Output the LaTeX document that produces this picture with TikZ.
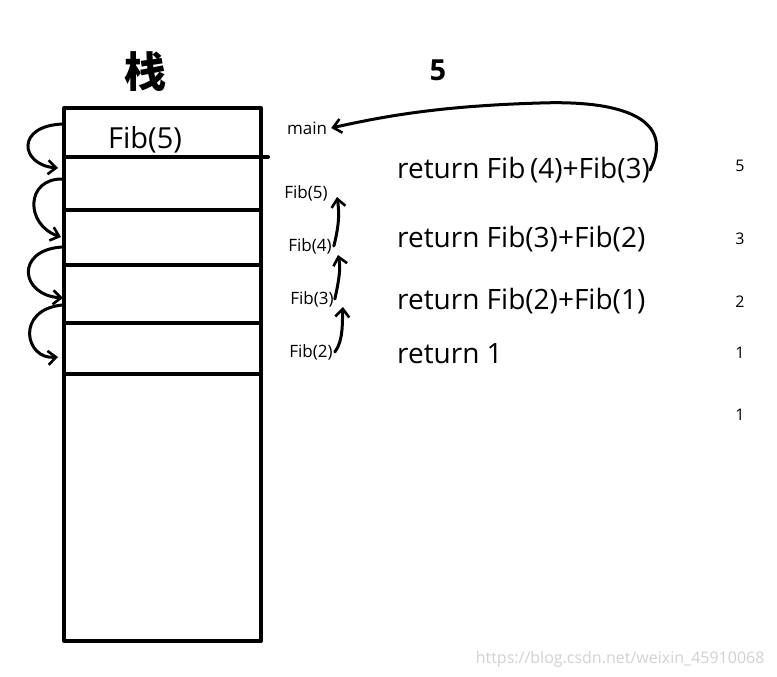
\documentclass[tikz,border=0pt]{standalone}
\usepackage{fontspec}
\setmainfont{Open Sans}
\newfontfamily\cjk{Noto Sans CJK SC}
\usetikzlibrary{arrows.meta}

\tikzset{
  pen/.style={line width=4pt, line cap=round, line join=round},
  hand/.style={line width=3pt, line cap=round, -{Straight Barb[length=8pt,width=14pt,line width=2.6pt]}},
  small/.style={font=\fontsize{17}{19}\selectfont, inner sep=0pt},
  big/.style={font=\fontsize{28}{31}\selectfont, inner sep=0pt, anchor=west},
  num/.style={font=\fontsize{16}{18}\selectfont, inner sep=0pt}
}

\begin{document}
\begin{tikzpicture}[x=1pt,y=-1pt]
    \useasboundingbox (0,0) rectangle (777,677);
    % stack
    \draw[pen] (64,108) rectangle (261,641);
    \draw[pen] (64,157) -- (268,157);
    \foreach \y in {210,265,323,374}
        \draw[pen] (64,\y) -- (261,\y);
    \node (stack) at (145,72) {\cjk\bfseries\fontsize{42}{46}\selectfont 栈};
    \node (top) at (438,70) {\bfseries\fontsize{29}{31}\selectfont 5};
    \node[font=\fontsize{29}{32}\selectfont] (cell) at (145,140) {Fib(5)};

    % frames
    \node[small] (main) at (307,128) {main};
    \node[small] (f5) at (306,193) {Fib(5)};
    \node[small] (f4) at (310,246) {Fib(4)};
    \node[small] (f3) at (312,299) {Fib(3)};
    \node[small] (f2) at (311,352) {Fib(2)};

    \node[big] (r5) at (397,170) {return Fib\,(4)+Fib(3)};
    \node[big] (r4) at (397,239) {return Fib(3)+Fib(2)};
    \node[big] (r3) at (397,301) {return Fib(2)+Fib(1)};
    \node[big] (r2) at (397,354) {return 1};

    \node[num] (v5) at (740,166) {5};
    \node[num] (v4) at (740,239) {3};
    \node[num] (v3) at (740,302) {2};
    \node[num] (v2) at (740,353) {1};
    \node[num] (v1) at (740,415) {1};

    \node[font=\fontsize{16}{18}\selectfont, text=black!18, anchor=east] (mark) at (768,659)
        {https://blog.csdn.net/weixin\_45910068};

    % returns
    \draw[hand] (r5.east) .. controls (675,120) and (625,100) .. (540,103)
        .. controls (440,106) and (385,116) .. ([xshift=4pt]main.east);
    \draw[hand] ([xshift=2pt]f2.east) .. controls (344,340) and (342,320) .. (343,307);
    \draw[hand] ([xshift=1pt]f3.east) .. controls (339,280) and (341,268) .. (338,255);
    \draw[hand] ([xshift=2pt]f4.east) .. controls (340,222) and (339,210) .. (337,197);

    % calls
    \coordinate (a1) at (64,124); \coordinate (b1) at (58,168);
    \coordinate (a2) at (63,179); \coordinate (b2) at (61,237);
    \coordinate (a3) at (62,247); \coordinate (b3) at (63,298);
    \coordinate (a4) at (62,305); \coordinate (b4) at (58,357);
    \draw[hand] (a1) .. controls (15,125) and (20,165) .. (b1);
    \draw[hand] (a2) .. controls (25,178) and (25,225) .. (b2);
    \draw[hand] (a3) .. controls (15,250) and (20,295) .. (b3);
    \draw[hand] (a4) .. controls (15,310) and (25,360) .. (b4);
\end{tikzpicture}
\end{document}
